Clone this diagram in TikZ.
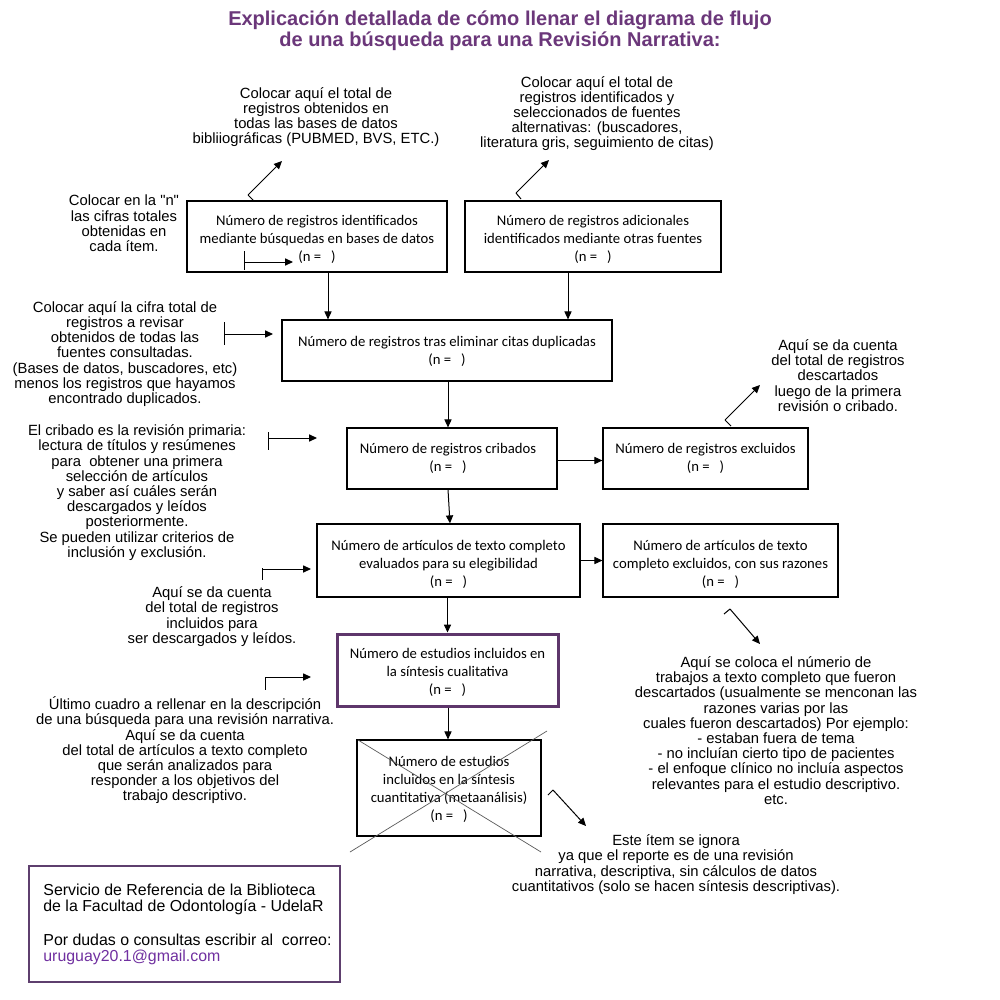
\documentclass[tikz,border=0pt]{standalone}
\usepackage{fontspec}
\setmainfont{Liberation Sans}[Ligatures=TeXOff]
\newfontfamily\calibrifont{Carlito}
\usetikzlibrary{arrows.meta}
\definecolor{titlepurple}{RGB}{107,55,122}
\definecolor{boxpurple}{RGB}{94,54,107}
\definecolor{mailpurple}{RGB}{112,48,160}
\definecolor{footline}{RGB}{94,63,110}
\definecolor{crossgray}{RGB}{90,90,90}
\begin{document}
\begin{tikzpicture}[x=0.5pt,y=-0.5pt,
  flowbox/.style={draw, line width=0.6pt, inner sep=0},
  boxtext/.style={inner sep=0, align=center,
    font=\calibrifont\fontsize{7.35}{9}\selectfont},
  note/.style={inner sep=0, align=center, font=\fontsize{7.4}{7.6}\selectfont},
  arr/.style={line width=0.5pt, -{Triangle[length=4pt,width=3.6pt]}},
  tickline/.style={line width=0.5pt},
  crossline/.style={draw=crossgray, line width=0.35pt}]
\fill[white] (0,0) rectangle (1000,1000);
\useasboundingbox (0,0) rectangle (1000,1000);

% title
\node[inner sep=0, align=center, text=titlepurple,
  font=\bfseries\fontsize{10}{10.5}\selectfont] (title) at (500,31)
  {Explicación detallada de cómo llenar el diagrama de flujo\\de una búsqueda para una Revisión Narrativa:};

% boxes
\node[flowbox, minimum width=130pt, minimum height=35.5pt] (b1) at (317,236.5) {};
\node[boxtext] (b1t) at ([yshift=-1.5pt]b1.center)
  {Número de registros identificados\\mediante búsquedas en bases de datos\\(n =\ \ \ )};
\node[flowbox, minimum width=128pt, minimum height=35.5pt] (b2) at (593,236.5) {};
\node[boxtext] (b2t) at ([yshift=-1.5pt]b2.center)
  {Número de registros adicionales\\identificados mediante otras fuentes\\(n =\ \ \ )};
\node[flowbox, minimum width=165pt, minimum height=30.5pt] (b3) at (447,350.5) {};
\node[boxtext] (b3t) at ([yshift=-0.3pt]b3.center)
  {Número de registros tras eliminar citas duplicadas\\(n =\ \ \ )};
\node[flowbox, minimum width=105pt, minimum height=30.5pt] (b4) at (452,458.5) {};
\node[boxtext] (b4t) at ([xshift=-2pt]b4.center)
  {Número de registros cribados\\(n =\ \ \ )};
\node[flowbox, minimum width=102.5pt, minimum height=30.5pt] (b5) at (705.5,458.5) {};
\node[boxtext] (b5t) at (b5.center)
  {Número de registros excluidos\\(n =\ \ \ )};
\node[flowbox, minimum width=131.5pt, minimum height=36.5pt] (b6) at (448.5,560.5) {};
\node[boxtext] (b6t) at ([yshift=-2pt]b6.center)
  {Número de artículos de texto completo\\evaluados para su elegibilidad\\(n =\ \ \ )};
\node[flowbox, minimum width=117.5pt, minimum height=36.5pt] (b7) at (720.5,560.5) {};
\node[boxtext] (b7t) at ([yshift=-2pt]b7.center)
  {Número de artículos de texto\\completo excluidos, con sus razones\\(n =\ \ \ )};
\node[flowbox, draw=boxpurple, line width=1.5pt, minimum width=110.5pt, minimum height=36pt] (b8) at (447.5,670) {};
\node[boxtext] (b8t) at ([yshift=-1pt]b8.center)
  {Número de estudios incluidos en\\la síntesis cualitativa\\(n =\ \ \ )};
\node[flowbox, minimum width=92pt, minimum height=48pt] (b9) at (449,788) {};
\node[boxtext] (b9t) at ([yshift=-0.5pt]b9.center)
  {Número de estudios\\incluidos en la síntesis\\cuantitativa (metaanálisis)\\(n =\ \ \ )};

% cross over box 9
\coordinate (c1a) at (358,740); \coordinate (c1b) at (541,852);
\coordinate (c2a) at (547,731); \coordinate (c2b) at (350,852);
\draw[crossline] (c1a) -- (c1b);
\draw[crossline] (c2a) -- (c2b);

% flow arrows
\draw[arr] ([xshift=5.5pt]b1.south) -- ([xshift=5.5pt]b1.south |- b3.north);
\draw[arr] ([xshift=-12.5pt]b2.south) -- ([xshift=-12.5pt]b2.south |- b3.north);
\draw[arr] ([xshift=0.5pt]b3.south) -- ([xshift=0.5pt]b3.south |- b4.north);
\draw[arr] ([yshift=-1pt]b4.east) -- ([yshift=-1pt]b4.east -| b5.west);
\draw[arr] ([xshift=-2pt]b4.south) -- ([xshift=-1pt]b4.south |- b6.north);
\draw[arr] (b6.east) -- (b6.east -| b7.west);
\draw[arr] ([xshift=-0.5pt]b6.south) -- ([xshift=-0.5pt]b6.south |- b8.north);
\draw[arr] ([xshift=0.25pt]b8.south) -- ([xshift=0.25pt]b8.south |- b9.north);

% annotations
\node[note] (t1) at (316,117)
  {Colocar aquí el total de\\registros obtenidos en\\todas las bases de datos\\bibliiográficas (PUBMED, BVS, ETC.)};
\node[note, font=\fontsize{7.4}{7.5}\selectfont] (t2) at (597,113.5)
  {Colocar aquí el total de\\registros identificados y\\seleccionados de fuentes\\alternativas: (buscadores,\\literatura gris, seguimiento de citas)};
\node[note] (l1) at (124,223.5)
  {Colocar en la "n"\\las cifras totales\\obtenidas en\\cada ítem.};
\node[note] (l2) at (125,354)
  {Colocar aquí la cifra total de\\registros a revisar\\obtenidos de todas las\\fuentes consultadas.\\(Bases de datos, buscadores, etc)\\menos los registros que hayamos\\encontrado duplicados.};
\node[note] (r1) at (838,375.5)
  {Aquí se da cuenta\\del total de registros\\descartados\\luego de la primera\\revisión o cribado.};
\node[note] (l3) at (137,492.5)
  {El cribado es la revisión primaria:\\lectura de títulos y resúmenes\\para\ \ obtener una primera\\selección de artículos\\y saber así cuáles serán\\descargados y leídos\\posteriormente.\\Se pueden utilizar criterios de\\inclusión y exclusión.};
\node[note] (l4) at (212,616.5)
  {Aquí se da cuenta\\del total de registros\\incluidos para\\ser descargados y leídos.};
\node[note] (l5) at (185,750.5)
  {Último cuadro a rellenar en la descripción\\de una búsqueda para una revisión narrativa.\\Aquí se da cuenta\\del total de artículos a texto completo\\que serán analizados para\\responder a los objetivos del\\trabajo descriptivo.};
\node[note] (r2) at (776,730.5)
  {Aquí se coloca el númerio de\\trabajos a texto completo que fueron\\descartados (usualmente se menconan las\\razones varias por las\\cuales fueron descartados) Por ejemplo:\\- estaban fuera de tema\\- no incluían cierto tipo de pacientes\\- el enfoque clínico no incluía aspectos\\relevantes para el estudio descriptivo.\\etc.};
\node[note] (r3) at (676,864.5)
  {Este ítem se ignora\\ya que el reporte es de una revisión\\narrativa, descriptiva, sin cálculos de datos\\cuantitativos (solo se hacen síntesis descriptivas).};

% horizontal pointer arrows with tick
\coordinate (h1s) at (244,262); \coordinate (h1e) at (293,262);
\coordinate (h2s) at (224,334); \coordinate (h2e) at (273,334);
\coordinate (h3s) at (268,438); \coordinate (h3e) at (317,438);
\coordinate (h4s) at (262,569); \coordinate (h4e) at (311,569);
\coordinate (h5s) at (265,677); \coordinate (h5e) at (311,677);
\foreach \i/\u/\d in {1/5.5pt/-4pt, 2/6pt/-5.5pt, 3/3pt/-6pt, 4/0.5pt/-5.5pt, 5/0pt/-6.5pt}{
  \draw[tickline] ([yshift=\u]h\i s) -- ([yshift=\d]h\i s);
  \draw[arr] (h\i s) -- (h\i e);
}

% diagonal pointer arrows with tick
\coordinate (d1s) at (248,195); \coordinate (d1e) at (282,161); \coordinate (d1t) at (254,201);
\coordinate (d2s) at (516,193); \coordinate (d2e) at (549,160); \coordinate (d2t) at (521,199);
\coordinate (d3s) at (725,420); \coordinate (d3e) at (760,385); \coordinate (d3t) at (731,426);
\coordinate (d4s) at (730,609); \coordinate (d4e) at (760,644); \coordinate (d4t) at (724,614);
\coordinate (d5s) at (553,790); \coordinate (d5e) at (586,826); \coordinate (d5t) at (548,795);
\foreach \i in {1,...,5}{
  \draw[tickline] (d\i t) -- (d\i s);
  \draw[arr] (d\i s) -- (d\i e);
}

% footer
\node[draw=footline, line width=0.8pt, minimum width=155.5pt, minimum height=58pt, inner sep=0] (foot) at (184.5,924) {};
\node[anchor=north west, inner sep=0, align=left, font=\fontsize{7.95}{8}\selectfont] (foottext) at (43,884)
  {Servicio de Referencia de la Biblioteca\\de la Facultad de Odontología - UdelaR\\[9pt]Por dudas o consultas escribir al\ \ correo:\\\textcolor{mailpurple}{uruguay20.1@gmail.com}};
\end{tikzpicture}
\end{document}
